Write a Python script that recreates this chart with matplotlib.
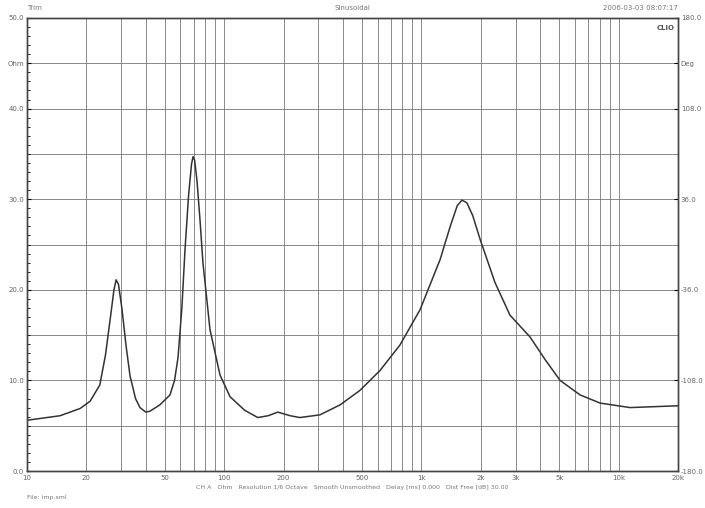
import matplotlib
matplotlib.use("Agg")
import matplotlib.pyplot as plt
from matplotlib.ticker import NullFormatter, FixedLocator

freq = [10, 14.7, 18.6, 20.9, 23.4, 25.0, 26.5, 27.6, 28.3, 29.1, 30.3, 31.8, 33.3, 35.5,
        37.4, 40.0, 42.0, 47.2, 53.1, 56.0, 58.3, 61.0, 63.3, 66.0, 68.3, 69.5, 70.8,
        72.8, 75.5, 78.0, 84.7, 95.2, 107, 127, 148, 167, 187, 216, 242, 306,
        387, 488, 617, 778, 984, 1242, 1400, 1520, 1607, 1700, 1820, 1982, 2361, 2812,
        3553, 4237, 5047, 6372, 8047, 11430, 20000]
ohm = [5.6, 6.1, 6.9, 7.7, 9.5, 12.8, 17.0, 20.0, 21.1, 20.6, 17.9, 13.8, 10.5, 8.0,
       7.0, 6.5, 6.6, 7.3, 8.4, 10.0, 12.5, 18.0, 24.5, 30.5, 33.9, 34.7, 34.3,
       32.0, 27.5, 23.0, 15.6, 10.6, 8.2, 6.7, 5.9, 6.1, 6.5, 6.1, 5.9, 6.2,
       7.3, 8.9, 11.1, 13.9, 17.8, 23.3, 27.0, 29.3, 29.9, 29.6, 28.2, 25.6, 20.8, 17.2,
       14.8, 12.3, 10.0, 8.4, 7.5, 7.0, 7.2]
xgrid = [20, 30, 40, 50, 60, 70, 80, 90, 100, 200, 300, 400, 500, 600, 700, 800, 900,
         1000, 2000, 3000, 4000, 5000, 6000, 7000, 8000, 9000, 10000]
xtick_vals = [10, 20, 50, 100, 200, 500, 1000, 2000, 3000, 5000, 10000, 20000]
xtick_labels = ["10", "20", "50", "100", "200", "500", "1k", "2k", "3k", "5k", "10k", "20k"]
ytick_vals = [0, 10, 20, 30, 40, 45, 50]
ytick_labels = ["0.0", "10.0", "20.0", "30.0", "40.0", "Ohm", "50.0"]
rtick_labels = ["-180.0", "-108.0", "-36.0", "36.0", "108.0", "Deg", "180.0"]

fig = plt.figure(figsize=(7.05, 5.08), dpi=100)
ax = fig.add_axes([27/705, 1-471/508, (678-27)/705, (471-18)/508])
ax.set_xscale("log")
ax.set_xlim(10, 20000)
ax.set_ylim(0, 50)
for f in xgrid:
    ax.axvline(f, color="#777777", lw=0.6, zorder=1)
for y in range(5, 50, 5):
    ax.axhline(y, color="#777777", lw=0.6, zorder=1)
ax.plot(freq, ohm, color="#333333", lw=1.1, zorder=3, solid_joinstyle="round")

ax.xaxis.set_major_locator(FixedLocator(xtick_vals))
ax.xaxis.set_minor_formatter(NullFormatter())
ax.set_xticks(xtick_vals)
ax.set_xticklabels(xtick_labels, fontsize=5, color="#666666")
ax.tick_params(axis="x", which="both", length=0, pad=3)
ax.set_yticks(ytick_vals)
ax.set_yticklabels(ytick_labels, fontsize=5, color="#666666")
ax.set_yticks(range(0, 51, 1), minor=True)
ax.tick_params(axis="y", which="both", direction="in", length=3, pad=2, right=True)
ax.tick_params(axis="y", which="minor", length=2)
ax2 = ax.twinx()
ax2.set_ylim(0, 50)
ax2.set_yticks(ytick_vals)
ax2.set_yticklabels(rtick_labels, fontsize=5, color="#666666")
ax2.tick_params(axis="y", direction="in", length=3, pad=2)
for a in (ax, ax2):
    for s in a.spines.values():
        s.set_color("#444444"); s.set_linewidth(1.0)

fig.text(27/705, 1-8/508, "Trim", fontsize=5, color="#777777", va="center")
fig.text(352/705, 1-8/508, "Sinusoidal", fontsize=5, color="#777777", va="center", ha="center")
fig.text(678/705, 1-8/508, "2006-03-03 08:07:17", fontsize=5, color="#777777", va="center", ha="right")
ax.text(0.995, 0.985, "CLIO", transform=ax.transAxes, fontsize=5, weight="bold",
        color="#555555", ha="right", va="top")
fig.text(352/705, 1-487/508,
         "CH A   Ohm   Resolution 1/6 Octave   Smooth Unsmoothed   Delay [ms] 0.000   Dist Free [dB] 30.00",
         fontsize=4.5, color="#777777", ha="center", va="center")
fig.text(27/705, 1-497/508, "File: imp.sml", fontsize=4.5, color="#777777", va="center")
fig.savefig("out.png", dpi=100, facecolor="white")
